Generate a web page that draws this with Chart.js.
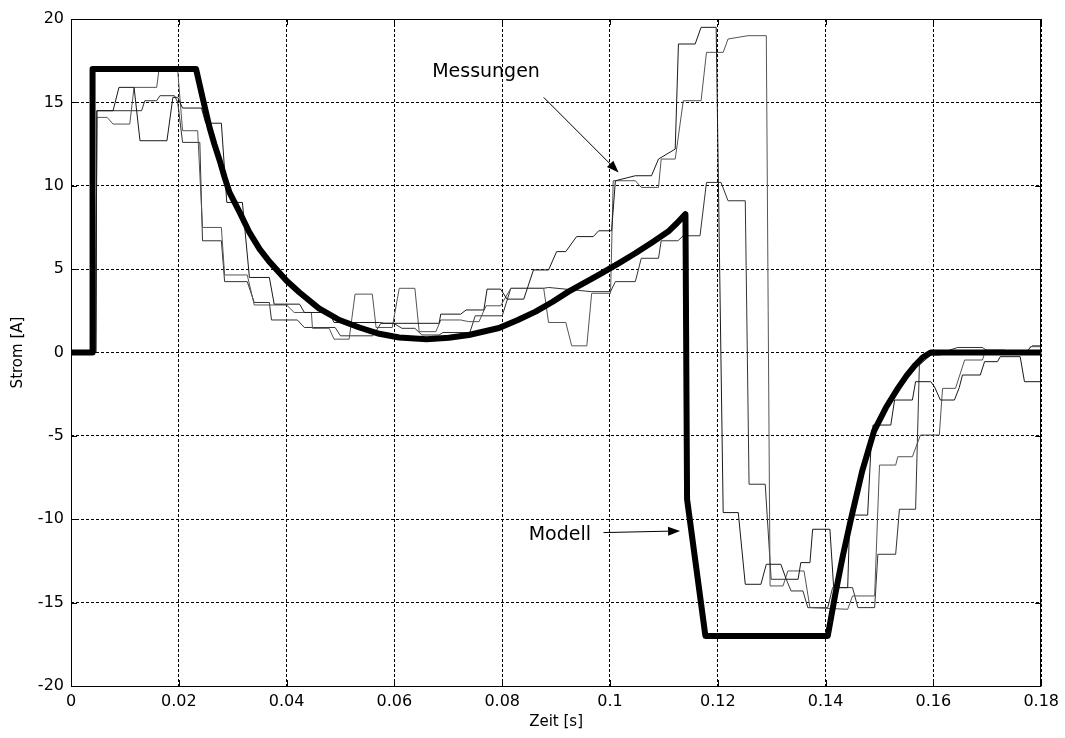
<!DOCTYPE html>
<html lang="de">
<head>
<meta charset="utf-8">
<title>Strom: Modell und Messungen</title>
<script src="https://cdn.jsdelivr.net/npm/chart.js@4.4.1/dist/chart.umd.min.js"></script>
<style>
  html, body { margin: 0; padding: 0; background: #fff; }
  #box { width: 1065px; height: 738px; }
</style>
</head>
<body>
<div id="box"><canvas id="grafik" width="1065" height="738"></canvas></div>
<script>
// Achsenteilung
const zeitTicks = [0, 0.02, 0.04, 0.06, 0.08, 0.1, 0.12, 0.14, 0.16, 0.18];
const stromTicks = [-20, -15, -10, -5, 0, 5, 10, 15, 20];

// Modellverlauf [Zeit s, Strom A]
const modell = [
  [0, 0], [0.0039, 0], [0.0040, 17], [0.0232, 17], [0.0244, 15.3], [0.0257, 13.5],
  [0.0266, 12.5], [0.0276, 11.5], [0.0285, 10.5], [0.0294, 9.6], [0.0313, 8.4], [0.0331, 7.2],
  [0.0350, 6.2], [0.0368, 5.45], [0.0400, 4.3], [0.0424, 3.6], [0.0460, 2.65], [0.0498, 1.95],
  [0.0535, 1.5], [0.0572, 1.12], [0.0609, 0.9], [0.0660, 0.8], [0.0701, 0.88], [0.0738, 1.05],
  [0.0794, 1.47], [0.0828, 1.93], [0.0862, 2.45], [0.0893, 3.03], [0.0923, 3.65], [0.0954, 4.2],
  [0.0984, 4.75], [0.1016, 5.35], [0.1047, 5.95], [0.1078, 6.6], [0.1108, 7.25], [0.1124, 7.75],
  [0.1140, 8.3], [0.1143, -8.8], [0.1177, -17], [0.1404, -17], [0.1418, -14.5], [0.1432, -12.2],
  [0.1447, -10], [0.1468, -7.1], [0.1490, -4.7], [0.1512, -3.3], [0.1534, -2.15], [0.1550, -1.4],
  [0.1565, -0.8], [0.1580, -0.3], [0.1595, 0], [0.18, 0]
];

// Messung 1
const messung1 = [
  [0, 0], [0.0046, 0], [0.0048, 14.5], [0.0078, 14.5], [0.0089, 15.9], [0.0117, 15.9],
  [0.0128, 12.7], [0.0178, 12.7], [0.0189, 15.3], [0.0198, 15.3], [0.0207, 14.66], [0.0242, 14.66],
  [0.0250, 13.75], [0.0279, 13.75], [0.0289, 9.0], [0.0318, 9.0], [0.0331, 4.5], [0.0368, 4.5],
  [0.0377, 2.9], [0.0424, 2.9], [0.0433, 2.4], [0.0479, 2.4], [0.0488, 1.8], [0.0572, 1.8],
  [0.0581, 1.75], [0.0683, 1.75], [0.0686, 2.3], [0.0723, 2.3], [0.0733, 2.55], [0.0766, 2.55],
  [0.0772, 3.8], [0.0797, 3.8], [0.0809, 3.2], [0.0840, 3.2], [0.0858, 4.95], [0.0886, 4.95],
  [0.0901, 6.05], [0.0918, 6.05], [0.0938, 6.95], [0.0969, 6.95], [0.0979, 7.3], [0.1003, 7.3],
  [0.1010, 10.3], [0.1047, 10.6], [0.1077, 10.6], [0.1090, 11.6], [0.1121, 12.2], [0.1127, 18.5],
  [0.1158, 18.5], [0.1169, 19.5], [0.1197, 19.5], [0.1210, -9.6], [0.1238, -9.6], [0.1251, -13.9],
  [0.1280, -13.9], [0.1290, -12.7], [0.1317, -12.7], [0.1327, -13.6], [0.1349, -13.6], [0.1354, -12.6],
  [0.1371, -12.6], [0.1376, -10.6], [0.1408, -10.6], [0.1415, -14.1], [0.1441, -14.1], [0.1445, -9.75],
  [0.1478, -9.75], [0.1484, -5.8], [0.1488, -4.35], [0.1521, -4.35], [0.1528, -2.85], [0.1561, -2.85],
  [0.1567, -1.75], [0.1595, -1.75], [0.1602, -2.05], [0.1613, -2.85], [0.1639, -2.85], [0.1648, -2.1],
  [0.1654, -1.35], [0.1687, -1.35], [0.1695, -0.55], [0.1719, -0.55], [0.1724, -0.25], [0.1761, -0.25],
  [0.1769, -1.75], [0.18, -1.75]
];

// Messung 2
const messung2 = [
  [0, 0], [0.0046, 0], [0.0048, 14.1], [0.0067, 14.1], [0.0078, 13.7], [0.0109, 13.7],
  [0.0117, 15.9], [0.0159, 15.9], [0.0163, 16.9], [0.0198, 16.9], [0.0207, 13.3], [0.0235, 13.3],
  [0.0244, 7.5], [0.0279, 7.5], [0.0285, 4.65], [0.0327, 4.65], [0.0340, 2.85], [0.0400, 2.85],
  [0.0414, 2.4], [0.0446, 2.4], [0.0448, 1.45], [0.0479, 1.45], [0.0488, 0.8], [0.0516, 0.8],
  [0.0527, 3.5], [0.0559, 3.5], [0.0566, 1.5], [0.0596, 1.5], [0.0609, 3.85], [0.0638, 3.85],
  [0.0646, 1.25], [0.0677, 1.25], [0.0686, 1.95], [0.0723, 1.95], [0.0738, 1.85], [0.0757, 1.85],
  [0.0770, 2.8], [0.0797, 2.8], [0.0816, 3.85], [0.0877, 3.85], [0.0886, 1.8], [0.0918, 1.8],
  [0.0929, 0.4], [0.0957, 0.4], [0.0966, 3.55], [0.1001, 3.55], [0.1006, 10.3], [0.1047, 10.3],
  [0.1058, 9.9], [0.1090, 9.9], [0.1095, 11.6], [0.1121, 11.6], [0.1136, 15.1], [0.1169, 15.1],
  [0.1179, 18.0], [0.1210, 18.0], [0.1219, 18.8], [0.1256, 19.0], [0.1290, 19.0], [0.1297, -14.0],
  [0.1321, -14.0], [0.1330, -13.1], [0.1360, -13.1], [0.1371, -15.3], [0.1441, -15.4], [0.1450, -14.6],
  [0.1491, -14.6], [0.1500, -6.75], [0.1530, -6.75], [0.1534, -6.25], [0.1561, -6.25], [0.1576, -4.95],
  [0.1611, -4.95], [0.1617, -2.15], [0.1641, -2.15], [0.1658, -0.45], [0.1691, -0.45], [0.1697, 0.15],
  [0.1732, 0.15], [0.1743, 0], [0.1774, 0], [0.1780, 0.35], [0.18, 0.35]
];

// Messung 3
const messung3 = [
  [0, 0], [0.0046, 0], [0.0048, 14.5], [0.0131, 14.5], [0.0137, 15.1], [0.0159, 15.1],
  [0.0165, 15.4], [0.0192, 15.4], [0.0198, 15.0], [0.0207, 12.6], [0.0239, 12.6], [0.0244, 6.7],
  [0.0279, 6.7], [0.0285, 4.25], [0.0327, 4.25], [0.0340, 3.0], [0.0368, 3.0], [0.0372, 1.95],
  [0.0420, 1.95], [0.0433, 1.5], [0.0490, 1.5], [0.0500, 1.0], [0.0560, 1.0], [0.0575, 1.75],
  [0.0599, 1.75], [0.0614, 1.45], [0.0638, 1.45], [0.0651, 1.05], [0.0683, 1.05], [0.0690, 1.2],
  [0.0740, 1.2], [0.0750, 2.2], [0.0800, 2.2], [0.0816, 3.85], [0.0877, 3.85], [0.0886, 3.9],
  [0.0965, 3.65], [0.1001, 3.65], [0.1010, 4.25], [0.1047, 4.25], [0.1058, 5.65], [0.1090, 5.65],
  [0.1095, 6.7], [0.1126, 6.7], [0.1136, 7.0], [0.1167, 7.0], [0.1179, 10.2], [0.1206, 10.2],
  [0.1219, 9.1], [0.1251, 9.1], [0.1258, -7.9], [0.1288, -7.9], [0.1299, -13.6], [0.1327, -13.6],
  [0.1336, -14.3], [0.1358, -14.3], [0.1367, -15.3], [0.1404, -15.3], [0.1413, -14.1], [0.1450, -14.1],
  [0.1460, -15.3], [0.1491, -15.3], [0.1497, -12.1], [0.1530, -12.1], [0.1537, -9.4], [0.1567, -9.4],
  [0.1574, -0.75], [0.1595, -0.15], [0.1613, -0.15], [0.1626, 0.1], [0.1645, 0.3], [0.1691, 0.3],
  [0.1700, 0.1], [0.1774, 0.1], [0.1783, 0.4], [0.18, 0.4]
];

// Beschriftungen mit Pfeil, in Datenkoordinaten
const hinweise = [
  { text: 'Messungen', pos: [0.0770, 16.8], von: [0.0877, 15.3], nach: [0.1016, 10.8] },
  { text: 'Modell', pos: [0.0907, -10.95], von: [0.0988, -10.8], nach: [0.1130, -10.7] }
];

const SCHRIFT = "'DejaVu Sans', 'Liberation Sans', Arial, sans-serif";
Chart.defaults.font.family = SCHRIFT;
Chart.defaults.color = '#000';

// [t, i] -> {x, y}
const punkte = arr => arr.map(([t, i]) => ({ x: t, y: i }));

// Rahmen um die Achsen mit kleinen Teilstrichen nach innen (wie in MATLAB)
const rahmenPlugin = {
  id: 'rahmen',
  afterDatasetsDraw(chart) {
    const { ctx, chartArea: a, scales } = chart;
    ctx.save();
    ctx.strokeStyle = '#000';
    ctx.lineWidth = 1;
    ctx.setLineDash([]);
    ctx.strokeRect(Math.round(a.left) + 0.5, Math.round(a.top) + 0.5,
      Math.round(a.right - a.left) - 1, Math.round(a.bottom - a.top));
    ctx.beginPath();
    zeitTicks.forEach(v => {
      const px = Math.round(scales.x.getPixelForValue(v)) + 0.5;
      ctx.moveTo(px, a.bottom); ctx.lineTo(px, a.bottom - 6);
      ctx.moveTo(px, a.top); ctx.lineTo(px, a.top + 6);
    });
    stromTicks.forEach(v => {
      const py = Math.round(scales.y.getPixelForValue(v)) + 0.5;
      ctx.moveTo(a.left, py); ctx.lineTo(a.left + 6, py);
      ctx.moveTo(a.right, py); ctx.lineTo(a.right - 6, py);
    });
    ctx.stroke();
    ctx.restore();
  }
};

// Texte und Pfeile "Messungen" / "Modell"
const hinweisPlugin = {
  id: 'hinweise',
  afterDraw(chart) {
    const { ctx, scales } = chart;
    const px = p => [scales.x.getPixelForValue(p[0]), scales.y.getPixelForValue(p[1])];
    ctx.save();
    ctx.fillStyle = '#000';
    ctx.strokeStyle = '#000';
    ctx.font = '19px ' + SCHRIFT;
    ctx.textAlign = 'center';
    ctx.textBaseline = 'middle';
    hinweise.forEach(h => {
      const [tx, ty] = px(h.pos);
      ctx.fillText(h.text, tx, ty);
      const [x1, y1] = px(h.von);
      const [x2, y2] = px(h.nach);
      const w = Math.atan2(y2 - y1, x2 - x1);
      const len = 12, br = 4.5;
      const bx = x2 - len * Math.cos(w), by = y2 - len * Math.sin(w);
      ctx.lineWidth = 1;
      ctx.beginPath();
      ctx.moveTo(x1, y1);
      ctx.lineTo(bx, by);
      ctx.stroke();
      ctx.beginPath();
      ctx.moveTo(x2, y2);
      ctx.lineTo(bx + br * Math.sin(w), by - br * Math.cos(w));
      ctx.lineTo(bx - br * Math.sin(w), by + br * Math.cos(w));
      ctx.closePath();
      ctx.fill();
    });
    ctx.restore();
  }
};

function duenneLinie(daten, farbe) {
  return {
    data: punkte(daten),
    borderColor: farbe,
    borderWidth: 1,
    pointRadius: 0,
    tension: 0
  };
}

new Chart(document.getElementById('grafik'), {
  type: 'line',
  data: {
    datasets: [
      {
        data: punkte(modell),
        borderColor: '#000',
        borderWidth: 6,
        borderJoinStyle: 'round',
        borderCapStyle: 'round',
        pointRadius: 0,
        tension: 0
      },
      duenneLinie(messung1, '#1a1a1a'),
      duenneLinie(messung2, '#555'),
      duenneLinie(messung3, '#333')
    ]
  },
  options: {
    responsive: false,
    animation: false,
    devicePixelRatio: 1,
    layout: { padding: { left: 0, top: 19, right: 21, bottom: 0 } },
    plugins: { legend: { display: false }, tooltip: { enabled: false } },
    scales: {
      x: {
        type: 'linear',
        min: 0,
        max: 0.18,
        afterBuildTicks: s => { s.ticks = zeitTicks.map(v => ({ value: v })); },
        afterFit: s => { s.height = 52; },
        ticks: {
          padding: 6,
          maxRotation: 0,
          autoSkip: false,
          font: { size: 16 },
          color: '#000',
          callback: v => String(+v.toFixed(2))
        },
        grid: { color: '#000', lineWidth: 1, drawTicks: false },
        border: { display: false, dash: [3, 2] },
        title: { display: true, text: 'Zeit [s]', font: { size: 15 }, color: '#000', padding: { top: 0, bottom: 7 } }
      },
      y: {
        min: -20,
        max: 20,
        afterBuildTicks: s => { s.ticks = stromTicks.map(v => ({ value: v })); },
        afterFit: s => { s.width = 71; },
        ticks: {
          padding: 7,
          autoSkip: false,
          font: { size: 16 },
          color: '#000',
          callback: v => String(v)
        },
        grid: { color: '#000', lineWidth: 1, drawTicks: false },
        border: { display: false, dash: [3, 2] },
        title: { display: true, text: 'Strom [A]', font: { size: 15 }, color: '#000', padding: { top: 9, bottom: 0 } }
      }
    }
  },
  plugins: [rahmenPlugin, hinweisPlugin]
});
</script>
</body>
</html>
